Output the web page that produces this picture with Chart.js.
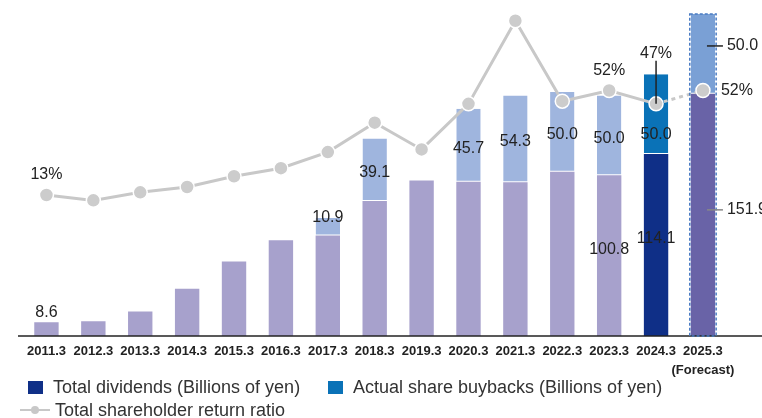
<!DOCTYPE html>
<html>
<head>
<meta charset="utf-8">
<script src="https://cdn.jsdelivr.net/npm/chart.js@4.4.1/dist/chart.umd.min.js"></script>
<style>
  body { margin: 0; background: #fff; }
  .wrap { position: relative; width: 762px; height: 418px; font-family: 'Liberation Sans', Arial, sans-serif; color: #333; }
  canvas { position: absolute; left: 0; top: 0; }
  .legend-box { position: absolute; width: 15px; height: 13px; }
  .legend-text { position: absolute; font-size: 18px; line-height: 20px; white-space: nowrap; }
  .legend-line { position: absolute; left: 20px; top: 409px; width: 30px; height: 2px; background: #c8c8c8; }
  .legend-dot { position: absolute; left: 31px; top: 406px; width: 8px; height: 8px; border-radius: 50%; background: #c8c8c8; }
</style>
</head>
<body>
<div class="wrap">
  <canvas id="chart-return" width="762" height="418"></canvas>
  <div class="legend-box" style="left:28px; top:381px; background:#0f2f87;"></div>
  <div class="legend-text" style="left:53px; top:377px;">Total dividends (Billions of yen)</div>
  <div class="legend-box" style="left:328px; top:381px; background:#0a72b7;"></div>
  <div class="legend-text" style="left:353px; top:377px;">Actual share buybacks (Billions of yen)</div>
  <div class="legend-line"></div>
  <div class="legend-dot"></div>
  <div class="legend-text" style="left:55px; top:400px;">Total shareholder return ratio</div>
</div>
<script>
// chart data
const years = ['2011.3','2012.3','2013.3','2014.3','2015.3','2016.3','2017.3','2018.3','2019.3','2020.3','2021.3','2022.3','2023.3','2024.3',['2025.3','(Forecast)']];
const dividends = [8.6, 9.2, 15.3, 29.7, 46.7, 60.0, 63.0, 84.7, 97.5, 96.7, 96.4, 103.0, 100.8, 114.1, 151.9];
const buybacks = [null, null, null, null, null, null, 10.9, 39.1, null, 45.7, 54.3, 50.0, 50.0, 50.0, 50.0];
const returnRatio = [13, 11, 14, 16, 20, 23, 29, 40, 30, 47, 78, 48, 52, 47, 52];

// which dividend / ratio values get a label
const labeledDividends = [0, 12, 13, 14];
const labeledRatios = [0, 12, 13, 14];

const lastIdx = years.length - 1;
const actualIdx = lastIdx - 1;

// bar colours: past years, latest actual year, forecast
let dividendColors = dividends.map((v, i) => i === lastIdx ? '#6963a7' : i === actualIdx ? '#0f2f87' : '#a7a1cc');
let buybackColors = buybacks.map((v, i) => i === lastIdx ? '#7aa0d5' : i === actualIdx ? '#0a72b7' : '#9fb5de');

const labelFont = '16px "Liberation Sans", Arial, sans-serif';

// black axis line under the bars, wider than the plot area
const baseLine = {
    id: 'baseLine',
    afterDatasetsDraw(chart) {
        const ctx = chart.ctx;
        const y = chart.chartArea.bottom;
        ctx.save();
        ctx.strokeStyle = '#222';
        ctx.lineWidth = 1.5;
        ctx.beginPath();
        ctx.moveTo(18, y);
        ctx.lineTo(chart.width, y);
        ctx.stroke();
        ctx.restore();
    }
};

// dashed frame around the forecast bar
const forecastFrame = {
    id: 'forecastFrame',
    afterDatasetsDraw(chart) {
        const top = chart.getDatasetMeta(1).data[lastIdx];
        const bottom = chart.getDatasetMeta(0).data[lastIdx];
        const ctx = chart.ctx;
        const half = top.width / 2 + 1;
        ctx.save();
        ctx.strokeStyle = '#4a7cc4';
        ctx.lineWidth = 1.5;
        ctx.setLineDash([3, 2]);
        ctx.strokeRect(top.x - half, top.y, half * 2, bottom.base - top.y);
        ctx.restore();
    }
};

// value and percent labels
const valueLabels = {
    id: 'valueLabels',
    afterDatasetsDraw(chart) {
        const ctx = chart.ctx;
        const divMeta = chart.getDatasetMeta(0);
        const buyMeta = chart.getDatasetMeta(1);
        const lineMeta = chart.getDatasetMeta(2);
        ctx.save();
        ctx.font = labelFont;
        ctx.fillStyle = '#222';
        ctx.lineWidth = 1.5;
        ctx.textBaseline = 'middle';

        const sideLabel = (el, y, text, tickColor) => {
            ctx.strokeStyle = tickColor;
            ctx.beginPath();
            ctx.moveTo(el.x + 4, y);
            ctx.lineTo(el.x + 20, y);
            ctx.stroke();
            ctx.textAlign = 'left';
            ctx.fillText(text, el.x + 24, y);
        };

        // total dividends
        labeledDividends.forEach(i => {
            const el = divMeta.data[i];
            const mid = (el.y + el.base) / 2;
            const text = dividends[i].toFixed(1);
            ctx.textAlign = 'center';
            if (i === 0) ctx.fillText(text, el.x, el.y - 10);
            else if (i === lastIdx) sideLabel(el, mid - 5, text, '#888');
            else ctx.fillText(text, el.x, mid - 6);
        });

        // share buybacks
        buybacks.forEach((v, i) => {
            if (v === null) return;
            const el = buyMeta.data[i];
            const mid = (el.y + el.base) / 2;
            const text = v.toFixed(1);
            ctx.textAlign = 'center';
            if (i === 6) ctx.fillText(text, el.x, el.y - 1);
            else if (i === actualIdx) ctx.fillText(text, el.x, el.base - 19);
            else if (i === lastIdx) sideLabel(el, el.y + 32, text, '#222');
            else ctx.fillText(text, el.x, mid + 3);
        });

        // return ratio
        ctx.strokeStyle = '#222';
        labeledRatios.forEach(i => {
            const pt = lineMeta.data[i];
            const text = returnRatio[i] + '%';
            if (i === lastIdx) {
                ctx.textAlign = 'left';
                ctx.fillText(text, pt.x + 18, pt.y);
            } else if (i === actualIdx) {
                ctx.textAlign = 'center';
                ctx.fillText(text, pt.x, pt.y - 50);
                ctx.beginPath();
                ctx.moveTo(pt.x, pt.y - 43);
                ctx.lineTo(pt.x, pt.y);
                ctx.stroke();
            } else {
                ctx.textAlign = 'center';
                ctx.fillText(text, pt.x, pt.y - 20);
            }
        });
        ctx.restore();
    }
};

let chartReturn = document.getElementById('chart-return').getContext('2d');

let returnChart = new Chart(chartReturn, {
    type: 'bar',
    data: {
        labels: years,
        datasets: [{
            label: 'Total dividends (Billions of yen)',
            data: dividends,
            backgroundColor: dividendColors,
            borderWidth: 0,
            yAxisID: 'y',
            order: 1
        }, {
            label: 'Actual share buybacks (Billions of yen)',
            data: buybacks,
            backgroundColor: buybackColors,
            borderColor: '#fff',
            borderWidth: { top: 0, right: 0, bottom: 1, left: 0 },
            borderSkipped: false,
            yAxisID: 'y',
            order: 1
        }, {
            type: 'line',
            label: 'Total shareholder return ratio',
            data: returnRatio,
            borderColor: '#c8c8c8',
            borderWidth: 3,
            pointRadius: 7,
            pointBackgroundColor: '#cccccc',
            pointBorderColor: '#fff',
            pointBorderWidth: 1.5,
            segment: {
                borderDash: ctx => ctx.p1DataIndex === lastIdx ? [4, 4] : undefined
            },
            yAxisID: 'y2',
            order: 0
        }]
    },
    options: {
        responsive: false,
        animation: false,
        devicePixelRatio: 1,
        categoryPercentage: 1,
        barPercentage: 0.52,
        layout: { padding: { left: 23, right: 35.6, top: 13, bottom: 0 } },
        plugins: {
            legend: { display: false },
            tooltip: { enabled: false }
        },
        scales: {
            x: {
                stacked: true,
                grid: { display: false, drawTicks: false },
                border: { display: false },
                ticks: {
                    color: '#222',
                    padding: 6,
                    maxRotation: 0,
                    autoSkip: false,
                    font: { family: "'Liberation Sans', Arial, sans-serif", size: 13, weight: 'bold', lineHeight: 1.45 }
                },
                afterFit(scale) { scale.height = 82; }
            },
            y: { stacked: true, display: false, min: 0, max: 202.5 },
            y2: { display: false, min: -39.6, max: 80.9 }
        }
    },
    plugins: [baseLine, forecastFrame, valueLabels]
});
</script>
</body>
</html>
